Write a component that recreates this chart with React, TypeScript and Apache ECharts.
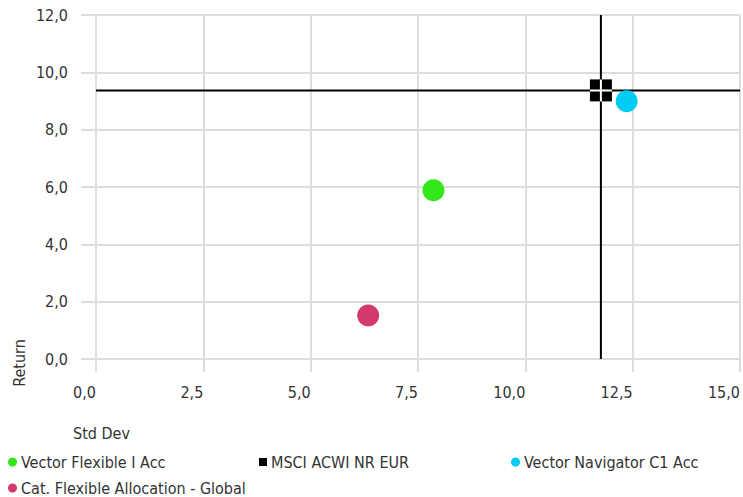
import React, { useEffect, useRef } from "react";
import * as echarts from "echarts";

const seriesNames = [
  "Vector Flexible I Acc",
  "MSCI ACWI NR EUR",
  "Vector Navigator C1 Acc",
  "Cat. Flexible Allocation - Global",
];
const stdDev = [7.86, 11.76, 12.36, 6.34];
const returns = [5.89, 9.37, 8.99, 1.52];
const colors = ["#33e81a", "#000000", "#00cbf4", "#d2396f"];
const benchmarkIndex = 1;
const xRange = [0, 15];
const yRange = [0, 12];

const FONT = "'Liberation Sans Narrow', 'DejaVu Sans Condensed', 'Roboto Condensed', sans-serif";
const TEXT = "#333333";
const GRID = "#dddddd";

export default function App() {
  const ref = useRef<HTMLDivElement>(null);
  useEffect(() => {
    if (!ref.current) return;
    const chart = echarts.init(ref.current, undefined, { renderer: "svg" });
    const legendLefts = [8, 259, 511, 8];
    const legendTops = [454, 454, 454, 480];
    const bx = stdDev[benchmarkIndex];
    const by = returns[benchmarkIndex];
    const series: any[] = seriesNames.map((name, i) => ({
      name,
      type: "scatter",
      data: [[stdDev[i], returns[i]]],
      symbol: i === benchmarkIndex ? "rect" : "circle",
      symbolSize: 22,
      itemStyle: { color: colors[i], opacity: 1 },
      z: 3,
    }));
    series.push({
      name: "crosshair-v",
      type: "line",
      data: [[bx, yRange[0]], [bx, yRange[1]]],
      showSymbol: false,
      symbol: "none",
      silent: true,
      lineStyle: { color: "#000", width: 2 },
      z: 1,
    });
    series.push({
      name: "crosshair-h",
      type: "line",
      data: [[xRange[0], by], [xRange[1], by]],
      showSymbol: false,
      symbol: "none",
      silent: true,
      lineStyle: { color: "#000", width: 2 },
      z: 1,
    });
    series.push({
      name: "benchmark-cross",
      type: "scatter",
      data: [[bx, by]],
      symbol: "path://M10,0H12V22H10Z M0,10H22V12H0Z",
      symbolSize: 22,
      itemStyle: { color: "#ffffff", opacity: 1 },
      z: 4,
      silent: true,
    });
    chart.setOption({
      animation: false,
      textStyle: { fontFamily: FONT },
      grid: { left: 96, right: 0, top: 15, bottom: 138, containLabel: false },
      xAxis: {
        type: "value",
        min: xRange[0],
        max: xRange[1],
        interval: 2.5,
        axisLine: { show: false },
        axisTick: { show: true, length: 13, lineStyle: { color: GRID, width: 2 } },
        splitLine: { show: true, lineStyle: { color: GRID, width: 2 } },
        axisLabel: {
          formatter: (v: number) => v.toFixed(1).replace(".", ","),
          align: "right",
          margin: 25,
          color: TEXT,
          fontSize: 16,
          fontFamily: FONT,
        },
      },
      yAxis: {
        type: "value",
        min: yRange[0],
        max: yRange[1],
        interval: 2,
        axisLine: { show: false },
        axisTick: { show: true, length: 15, lineStyle: { color: GRID, width: 2 } },
        splitLine: { show: true, lineStyle: { color: GRID, width: 2 } },
        axisLabel: {
          formatter: (v: number) => v.toFixed(1).replace(".", ","),
          margin: 28,
          color: TEXT,
          fontSize: 16,
          fontFamily: FONT,
        },
      },
      legend: seriesNames.map((name, i) => ({
        data: [{ name, icon: i === benchmarkIndex ? "rect" : "circle" }],
        left: legendLefts[i],
        top: legendTops[i],
        padding: 0,
        itemWidth: i === benchmarkIndex ? 8 : 9,
        itemHeight: i === benchmarkIndex ? 8 : 9,
        selectedMode: false,
        textStyle: { color: TEXT, fontSize: 16, fontFamily: FONT, padding: [0, 0, 0, -1] },
      })),
      graphic: [
        {
          type: "text",
          x: 19,
          y: 363,
          rotation: Math.PI / 2,
          style: { text: "Return", align: "center", verticalAlign: "middle", fill: TEXT, fontSize: 16, fontFamily: FONT },
        },
        {
          type: "text",
          x: 73,
          y: 433,
          style: { text: "Std Dev", align: "left", verticalAlign: "middle", fill: TEXT, fontSize: 16, fontFamily: FONT },
        },
      ],
      series,
    });
    return () => chart.dispose();
  }, []);
  return (
    <div
      ref={ref}
      style={{ position: "fixed", left: 0, top: 0, width: 743, height: 497, background: "#fff" }}
    />
  );
}
